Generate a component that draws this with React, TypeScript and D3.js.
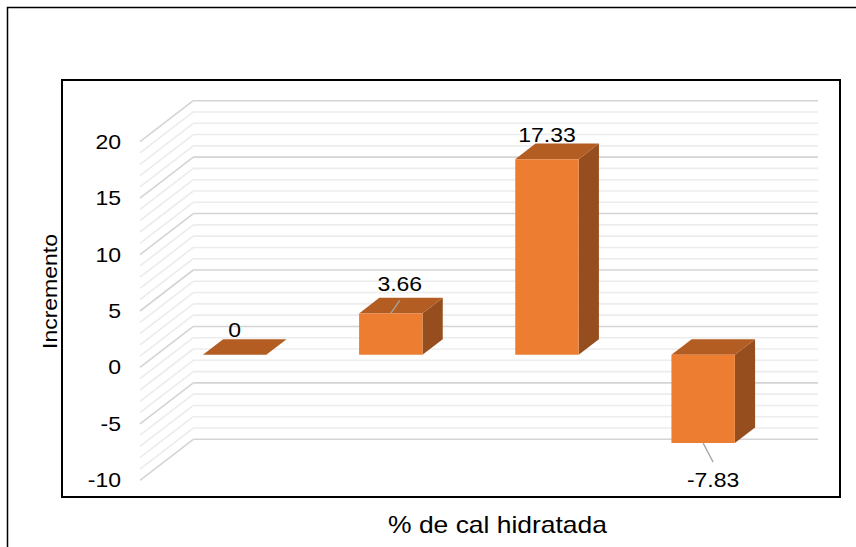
import React from "react";
import * as d3 from "d3";

const categories = ["0%", "2%", "4%", "6%"];
const values = [0, 3.66, 17.33, -7.83];
const valueLabels = ["0", "3.66", "17.33", "-7.83"];
const yTicks = [-10, -5, 0, 5, 10, 15, 20];
const minorTicks = d3.range(-10, 21, 1);
const labelOffsets: [number, number][] = [
  [0, -25],
  [9, -29],
  [0, -24],
  [10, 37],
];

const W = 856;
const H = 547;
const FONT = "'Liberation Sans', Arial, sans-serif";
const SX = 1.15;

export default function App() {
  const yBack = d3.scaleLinear().domain([-10, 20]).range([439.3, 100.7]);
  const xBand = d3.scaleBand<string>().domain(categories).range([193.3, 818]).padding(0);
  const DX = -53.3;
  const DY = 41;
  const P = (x: number, v: number, z: number): [number, number] => [x + z * DX, yBack(v) + z * DY];
  const pts = (arr: [number, number][]) => arr.map((p) => p.join(",")).join(" ");

  const zFront = 0.69;
  const zBack = 0.31;
  const barHalf = xBand.bandwidth() * 0.203;

  return (
    <div style={{ position: "absolute", left: 0, top: 0 }}>
      <svg width={W} height={H} style={{ display: "block", background: "#fff" }}>
        <rect x={0} y={0} width={W} height={H} fill="#fff" />
        <rect x={7.5} y={7.5} width={W + 20} height={H + 20} fill="none" stroke="#000" strokeWidth={1.5} />
        <rect x={62} y={80} width={778} height={417} fill="none" stroke="#000" strokeWidth={2} />

        {/* gridlines: back wall + side wall */}
        {minorTicks.map((v) => {
          const major = v % 5 === 0;
          const c = major ? "#d4d4d4" : "#ececec";
          const [bx, by] = P(193.3, v, 0);
          const [fx, fy] = P(193.3, v, 1);
          return (
            <g key={v}>
              <line x1={bx} y1={by} x2={818} y2={by} stroke={c} strokeWidth={1.6} />
              <line x1={bx} y1={by} x2={fx} y2={fy} stroke={c} strokeWidth={1.6} />
            </g>
          );
        })}

        {/* y tick labels */}
        {yTicks.map((v) => {
          const [, fy] = P(193.3, v, 1);
          return (
            <text
              key={v}
              transform={`translate(121,${fy}) scale(${SX},1)`}
              textAnchor="end"
              dominantBaseline="central"
              fontFamily={FONT}
              fontSize={20}
              fill="#000"
            >
              {v}
            </text>
          );
        })}

        {/* bars */}
        {categories.map((cat, i) => {
          const v = values[i];
          const cx = (xBand(cat) as number) + xBand.bandwidth() / 2;
          const x0 = cx - barHalf;
          const x1 = cx + barHalf;
          const top = Math.max(v, 0);
          const bot = Math.min(v, 0);
          const fTL = P(x0, top, zFront);
          const fTR = P(x1, top, zFront);
          const fBL = P(x0, bot, zFront);
          const fBR = P(x1, bot, zFront);
          const bTL = P(x0, top, zBack);
          const bTR = P(x1, top, zBack);
          const bBR = P(x1, bot, zBack);
          return (
            <g key={cat}>
              {v !== 0 && <polygon points={pts([fTR, bTR, bBR, fBR])} fill="#974e1e" />}
              <polygon points={pts([fTL, fTR, bTR, bTL])} fill="#b45d23" />
              {v !== 0 && <polygon points={pts([fTL, fTR, fBR, fBL])} fill="#ed7d31" />}
            </g>
          );
        })}

        {/* data labels with leader lines */}
        {categories.map((cat, i) => {
          const v = values[i];
          const cx = (xBand(cat) as number) + xBand.bandwidth() / 2;
          const [ax, ay] = P(cx, v, zFront);
          const [dx, dy] = labelOffsets[i];
          const lx = ax + dx;
          const ly = ay + dy;
          const leader = dx !== 0;
          const ey = v >= 0 ? ly + 16 : ly - 18;
          return (
            <g key={cat}>
              {leader && <line x1={ax} y1={ay} x2={lx} y2={ey} stroke="#a6a6a6" strokeWidth={1.3} />}
              <text
                transform={`translate(${lx},${ly}) scale(${SX},1)`}
                textAnchor="middle"
                dominantBaseline="central"
                fontFamily={FONT}
                fontSize={20}
                fill="#000"
              >
                {valueLabels[i]}
              </text>
            </g>
          );
        })}

        {/* axis titles */}
        <text
          transform={`translate(56.5,291.5) rotate(-90) scale(${SX},1)`}
          textAnchor="middle"
          fontFamily={FONT}
          fontSize={20}
          fill="#000"
        >
          Incremento
        </text>
        <text
          transform={`translate(497.5,532.7) scale(${SX},1)`}
          textAnchor="middle"
          fontFamily={FONT}
          fontSize={23}
          fill="#000"
        >
          % de cal hidratada
        </text>
      </svg>
    </div>
  );
}
